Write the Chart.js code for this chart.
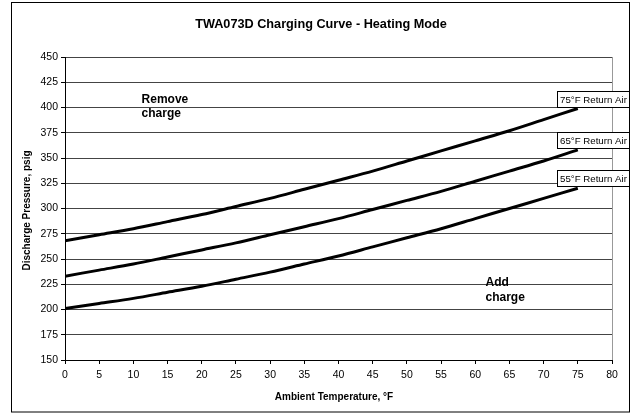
<!DOCTYPE html>
<html>
<head>
<meta charset="utf-8">
<script src="https://cdn.jsdelivr.net/npm/chart.js@4/dist/chart.umd.min.js"></script>
<style>
  body { margin: 0; background: #fff; }
  #wrap { width: 633px; height: 413px; position: relative; }
</style>
</head>
<body>
<div id="wrap"><canvas id="chart"></canvas></div>
<script>
// ambient temperature, F
const temps = [0, 5, 10, 15, 20, 25, 30, 35, 40, 45, 50, 55, 60, 65, 70, 75];
// discharge pressure, psig, per return air temperature
const ret75 = [268, 274, 280, 287, 294, 302, 310, 319, 328, 337, 347, 357, 367, 377, 388, 399];
const ret65 = [233, 239, 245, 252, 259, 266, 274, 282, 290, 299, 308, 317, 327, 337, 347, 358];
const ret55 = [201, 206, 211, 217, 223, 230, 237, 245, 253, 262, 271, 280, 290, 300, 310, 320];
const seriesLabels = ["75°F Return Air", "65°F Return Air", "55°F Return Air"];

const FONT = "'Liberation Sans', Arial, sans-serif";

function pts(vals) {
    return temps.map((t, i) => ({ x: t, y: vals[i] }));
}

// frame, title, axis titles, notes and line labels
const decor = {
    id: "decor",
    beforeDraw(chart) {
        const ctx = chart.ctx;
        ctx.save();
        ctx.fillStyle = "#fff";
        ctx.fillRect(0, 0, chart.width, chart.height);
        ctx.strokeStyle = "#000";
        ctx.lineWidth = 1;
        ctx.strokeRect(11.5, 2.5, 618, 409.5);
        ctx.restore();
    },
    afterDraw(chart) {
        const ctx = chart.ctx;
        const a = chart.chartArea;
        const xs = chart.scales.x, ys = chart.scales.y;
        ctx.save();

        // right edge of plot
        ctx.strokeStyle = "#999";
        ctx.lineWidth = 1;
        ctx.beginPath();
        ctx.moveTo(Math.round(a.right) + 0.5, a.top);
        ctx.lineTo(Math.round(a.right) + 0.5, a.bottom);
        ctx.stroke();

        ctx.fillStyle = "#000";
        ctx.textAlign = "center";
        ctx.textBaseline = "middle";
        ctx.font = "bold 12.7px " + FONT;
        ctx.fillText("TWA073D Charging Curve - Heating Mode", 321, 24);

        ctx.font = "bold 10px " + FONT;
        ctx.fillText("Ambient Temperature, °F", 334, 397);
        ctx.save();
        ctx.translate(27, (a.top + a.bottom) / 2 + 2);
        ctx.rotate(-Math.PI / 2);
        ctx.fillText("Discharge Pressure, psig", 0, 0);
        ctx.restore();

        // region notes
        ctx.textAlign = "left";
        ctx.font = "bold 12px " + FONT;
        const rx = xs.getPixelForValue(11.2), ry = ys.getPixelForValue(408);
        ctx.fillText("Remove", rx, ry);
        ctx.fillText("charge", rx, ry + 14.5);
        const ax = xs.getPixelForValue(61.5), ay = ys.getPixelForValue(227);
        ctx.fillText("Add", ax, ay);
        ctx.fillText("charge", ax, ay + 15);

        // labels at the end of each curve
        const ends = [ret75, ret65, ret55];
        ctx.font = "9.7px " + FONT;
        ends.forEach((vals, i) => {
            const ex = xs.getPixelForValue(temps[temps.length - 1]);
            const ey = ys.getPixelForValue(vals[vals.length - 1]);
            const bx = Math.round(ex - 21) + 0.5, by = Math.round(ey - 18) + 0.5;
            ctx.fillStyle = "#fff";
            ctx.fillRect(bx, by, 72, 16);
            ctx.strokeStyle = "#000";
            ctx.strokeRect(bx, by, 72, 16);
            ctx.fillStyle = "#000";
            ctx.fillText(seriesLabels[i], bx + 2.5, by + 8.5);
        });
        ctx.restore();
    }
};

new Chart(document.getElementById("chart"), {
    type: "line",
    data: {
        datasets: [
            { label: seriesLabels[0], data: pts(ret75) },
            { label: seriesLabels[1], data: pts(ret65) },
            { label: seriesLabels[2], data: pts(ret55) }
        ].map(d => Object.assign(d, {
            borderColor: "#000",
            borderWidth: 3,
            pointRadius: 0,
            cubicInterpolationMode: "monotone",
            fill: false
        }))
    },
    options: {
        responsive: true,
        maintainAspectRatio: false,
        animation: false,
        layout: { padding: { top: 57, right: 21, bottom: 0, left: 0 } },
        plugins: {
            legend: { display: false },
            title: { display: false },
            tooltip: { enabled: false }
        },
        scales: {
            x: {
                type: "linear",
                min: 0,
                max: 80,
                afterFit: s => { s.height = 53; },
                ticks: { stepSize: 5, padding: 5, color: "#000", font: { family: FONT, size: 10.5 } },
                grid: { drawOnChartArea: false, drawTicks: true, tickLength: 4, tickColor: "#000" },
                border: { color: "#000", width: 1 }
            },
            y: {
                min: 150,
                max: 450,
                afterFit: s => { s.width = 65; },
                ticks: { stepSize: 25, padding: 3, color: "#000", font: { family: FONT, size: 10.5 } },
                grid: { color: "#444", lineWidth: 1, tickLength: 4, tickColor: "#000" },
                border: { color: "#000", width: 1 }
            }
        }
    },
    plugins: [decor]
});
</script>
</body>
</html>
